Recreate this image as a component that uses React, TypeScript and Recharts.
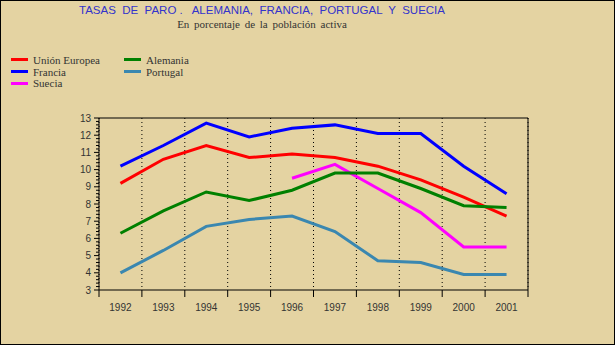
import { LineChart, Line, XAxis, YAxis, CartesianGrid, ReferenceLine } from "recharts";

const years = [1992, 1993, 1994, 1995, 1996, 1997, 1998, 1999, 2000, 2001];
const unionEuropea = [9.2, 10.6, 11.4, 10.7, 10.9, 10.7, 10.2, 9.4, 8.4, 7.3];
const francia = [10.2, 11.4, 12.7, 11.9, 12.4, 12.6, 12.1, 12.1, 10.2, 8.6];
const suecia = [null, null, null, null, 9.5, 10.3, 8.9, 7.5, 5.5, 5.5];
const alemania = [6.3, 7.6, 8.7, 8.2, 8.8, 9.8, 9.8, 8.9, 7.9, 7.8];
const portugal = [4.0, 5.3, 6.7, 7.1, 7.3, 6.4, 4.7, 4.6, 3.9, 3.9];

// major ticks every 1, minor ticks every 0.2
const yTicks = Array.from({ length: 51 }, (_, i) => Math.round((3 + i * 0.2) * 10) / 10);
const bandEdges = Array.from({ length: 11 }, (_, i) => 1991.5 + i);

const data = years.map((year, i) => ({
  year,
  ue: unionEuropea[i],
  fr: francia[i],
  se: suecia[i],
  de: alemania[i],
  pt: portugal[i]
}));

const series = [
  { key: "ue", name: "Unión Europea", color: "#ff0000" },
  { key: "fr", name: "Francia", color: "#0000ff" },
  { key: "se", name: "Suecia", color: "#ff00ff" },
  { key: "de", name: "Alemania", color: "#008000" },
  { key: "pt", name: "Portugal", color: "#3a87b0" }
];

const legendRows = [
  ["ue", "de"],
  ["fr", "pt"],
  ["se"]
];

function LegendBox() {
  return (
    <div
      style={{
        position: "absolute",
        top: 53,
        left: 10,
        fontFamily: "Liberation Serif",
        fontSize: 11,
        color: "#333"
      }}
    >
      {legendRows.map((row, r) => (
        <div key={r} style={{ display: "flex", height: r === 1 ? 12 : 11.5 }}>
          {row.map((k) => {
            const s = series.find((x) => x.key === k)!;
            return (
              <div key={k} style={{ display: "flex", alignItems: "center", width: 113 }}>
                <span style={{ display: "inline-block", width: 17, height: 3, background: s.color, marginRight: 5 }} />
                <span>{s.name}</span>
              </div>
            );
          })}
        </div>
      ))}
    </div>
  );
}

const NoLabel = () => <g />;

// y tick: long mark + label on integers, short mark otherwise
function YTick(props: any) {
  const { x, y, payload } = props;
  const major = Number.isInteger(payload.value);
  return (
    <g>
      <line x1={x + (major ? 3 : 5)} x2={x + 8} y1={y} y2={y} stroke="#000" />
      {major && (
        <text x={x} y={y} dy={3.5} textAnchor="end" fontFamily="Liberation Sans" fontSize={10} fill="#333">
          {payload.value}
        </text>
      )}
    </g>
  );
}

export default function App() {
  return (
    <div
      style={{
        position: "fixed",
        top: 0,
        left: 0,
        width: 613,
        height: 343,
        border: "1px solid #000",
        background: "#e4d3a2",
        overflow: "hidden"
      }}
    >
      <div
        style={{
          position: "absolute",
          top: 3,
          left: 0,
          width: 522,
          textAlign: "center",
          fontFamily: "Liberation Sans",
          fontSize: 11.5,
          color: "#3333cc",
          whiteSpace: "pre"
        }}
      >
        {"TASAS  DE  PARO .   ALEMANIA,  FRANCIA,  PORTUGAL  Y  SUECIA"}
      </div>
      <div
        style={{
          position: "absolute",
          top: 17,
          left: 0,
          width: 522,
          textAlign: "center",
          fontFamily: "Liberation Serif",
          fontSize: 11,
          color: "#333",
          wordSpacing: 2
        }}
      >
        En porcentaje de la población activa
      </div>
      <LegendBox />
      <LineChart
        width={613}
        height={343}
        data={data}
        margin={{ top: 117, right: 86, left: 68, bottom: 23 }}
        style={{ position: "absolute", top: 0, left: 0 }}
      >
        <CartesianGrid xAxisId="grid" yAxisId="major" horizontal={false} vertical={true} strokeDasharray="1 3" stroke="#000" />
        <XAxis
          xAxisId="grid"
          dataKey="year"
          type="number"
          domain={[1991.5, 2001.5]}
          ticks={bandEdges}
          interval={0}
          height={8}
          tickSize={7}
          stroke="#000"
          tickLine={{ stroke: "#000" }}
          axisLine={{ stroke: "#000" }}
          tick={NoLabel}
        />
        <XAxis
          xAxisId="lab"
          dataKey="year"
          type="number"
          domain={[1991.5, 2001.5]}
          ticks={years}
          interval={0}
          height={23}
          tickSize={0}
          tickMargin={6}
          tickLine={false}
          axisLine={false}
          tick={{ fontFamily: "Liberation Sans", fontSize: 10, fill: "#333" }}
        />
        <YAxis
          yAxisId="major"
          type="number"
          domain={[3, 13]}
          ticks={yTicks}
          width={30}
          tickSize={5}
          tickMargin={3}
          interval={0}
          stroke="#000"
          axisLine={{ stroke: "#000" }}
          tickLine={false}
          tick={YTick}
        />
        <ReferenceLine xAxisId="grid" yAxisId="major" y={13} stroke="#000" />
        <ReferenceLine xAxisId="grid" yAxisId="major" x={2001.5} stroke="#000" />
        {series.map((s) => (
          <Line
            key={s.key}
            xAxisId="grid"
            yAxisId="major"
            dataKey={s.key}
            name={s.name}
            stroke={s.color}
            strokeWidth={3}
            dot={false}
            activeDot={false}
            connectNulls={false}
            isAnimationActive={false}
          />
        ))}
      </LineChart>
    </div>
  );
}
